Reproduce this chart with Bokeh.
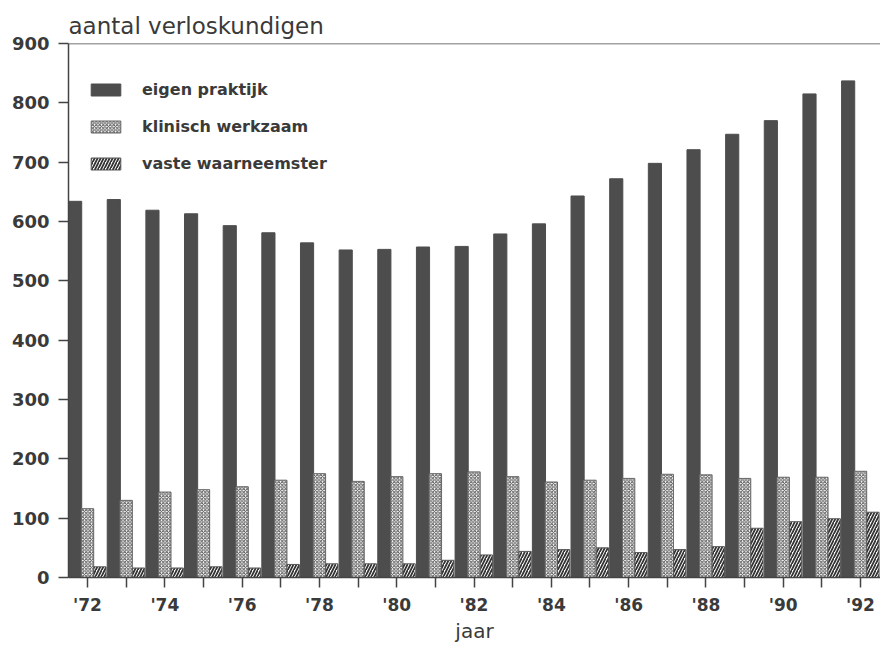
from bokeh.plotting import figure
from bokeh.models import (ColumnDataSource, FixedTicker, Range1d, Legend, LegendItem, Span)
from bokeh.transform import dodge
from bokeh.embed import file_html
from bokeh.resources import INLINE

years = list(range(1972, 1993))
eigen_praktijk = [634, 637, 619, 613, 593, 581, 564, 552, 553, 557, 558,
                  579, 596, 643, 672, 698, 721, 747, 770, 815, 837]
klinisch_werkzaam = [116, 130, 144, 148, 153, 164, 175, 162, 170, 175, 178,
                     170, 161, 164, 167, 174, 173, 167, 169, 169, 179]
vaste_waarneemster = [18, 16, 16, 18, 16, 22, 23, 23, 23, 29, 38,
                      44, 47, 50, 42, 47, 52, 83, 94, 99, 110]
tick_labels = {y: ("'" + str(y)[2:] if y % 2 == 0 else "") for y in years}

src = ColumnDataSource(dict(year=years, eigen=eigen_praktijk,
                            klin=klinisch_werkzaam, vaste=vaste_waarneemster))

TXT = "#3a3a3a"
FONT = "DejaVu Sans"

p = figure(width=880, height=645, output_backend="svg", toolbar_location=None,
           x_range=Range1d(1971.508, 1992.517), y_range=Range1d(0, 900),
           min_border_left=68, min_border_right=0, min_border_top=43, min_border_bottom=68)
p.outline_line_color = None
p.grid.grid_line_color = None
p.background_fill_color = "white"

r1 = p.vbar(x=dodge("year", -0.32, range=p.x_range), top="eigen", width=0.34, source=src,
            fill_color="#4d4d4d", line_color="#4d4d4d")
r2 = p.vbar(x=dodge("year", 0.0, range=p.x_range), top="klin", width=0.32, source=src,
            fill_color="#ffffff", line_color="#666666", line_width=1,
            hatch_pattern="diagonal_cross", hatch_color="#555555", hatch_scale=3.5, hatch_weight=1)
r3 = p.vbar(x=dodge("year", 0.32, range=p.x_range), top="vaste", width=0.32, source=src,
            fill_color="#ffffff", line_color="#555555", line_width=1,
            hatch_pattern="right_diagonal_line", hatch_color="#333333", hatch_scale=6, hatch_weight=1.8)

p.add_layout(Span(location=900, dimension="width", line_color="#444444", line_width=1.5))

# axes
p.yaxis.ticker = FixedTicker(ticks=list(range(0, 1000, 100)))
p.yaxis.minor_tick_line_color = None
p.yaxis.major_tick_out = 10
p.yaxis.major_tick_in = 0
p.yaxis.axis_line_width = 1.5
p.yaxis.axis_line_color = "#444444"
p.yaxis.major_tick_line_color = "#444444"
p.yaxis.major_tick_line_width = 1.5
p.yaxis.major_label_text_font = FONT
p.yaxis.major_label_text_font_style = "bold"
p.yaxis.major_label_text_font_size = "18px"
p.yaxis.major_label_text_color = TXT
p.yaxis.major_label_standoff = 9

p.xaxis.ticker = FixedTicker(ticks=years)
p.xaxis.major_label_overrides = tick_labels
p.xaxis.minor_tick_line_color = None
p.xaxis.major_tick_out = 10
p.xaxis.major_tick_in = 0
p.xaxis.axis_line_width = 1.5
p.xaxis.axis_line_color = "#444444"
p.xaxis.major_tick_line_color = "#444444"
p.xaxis.major_tick_line_width = 1.5
p.xaxis.major_label_text_font = FONT
p.xaxis.major_label_text_font_style = "bold"
p.xaxis.major_label_text_font_size = "17px"
p.xaxis.major_label_text_color = TXT
p.xaxis.major_label_standoff = 7
p.xaxis.axis_label = "jaar"
p.xaxis.axis_label_text_font = FONT
p.xaxis.axis_label_text_font_style = "normal"
p.xaxis.axis_label_text_font_size = "20px"
p.xaxis.axis_label_text_color = TXT
p.xaxis.axis_label_standoff = 1

p.title.text = "aantal verloskundigen"
p.title.text_font = FONT
p.title.text_font_style = "normal"
p.title.text_font_size = "23px"
p.title.text_color = TXT
p.title.align = "left"
p.title.offset = 0
p.title.standoff = 10

legend = Legend(items=[
    LegendItem(label="eigen praktijk", renderers=[r1]),
    LegendItem(label="klinisch werkzaam", renderers=[r2]),
    LegendItem(label="vaste waarneemster", renderers=[r3]),
], location=(19, 404))
legend.border_line_color = None
legend.background_fill_alpha = 0
legend.padding = 0
legend.margin = 0
legend.glyph_width = 37
legend.glyph_height = 15
legend.label_height = 15
legend.spacing = 18
legend.label_standoff = 18
legend.label_text_font = FONT
legend.label_text_font_style = "bold"
legend.label_text_font_size = "16px"
legend.label_text_color = TXT
p.add_layout(legend, "center")

open("out.html", "w").write(file_html(p, INLINE))
